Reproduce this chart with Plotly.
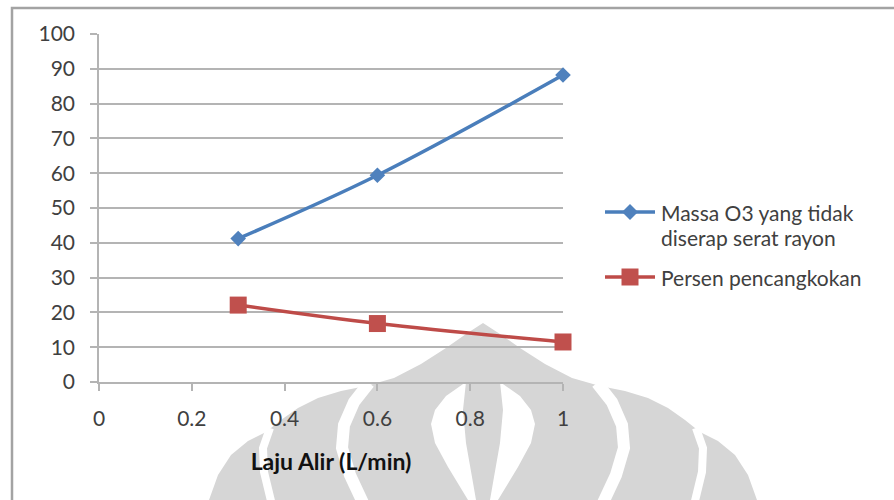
import plotly.graph_objects as go

# Flow rate (L/min)
laju_alir = [0.3, 0.6, 1.0]
# Unabsorbed O3 mass
massa_o3 = [41.2, 59.4, 88.2]
# Grafting percentage
persen = [22.1, 16.8, 11.5]

series_names = [["Massa O3 yang tidak", "diserap serat rayon"], ["Persen pencangkokan"]]
series_colors = ["#4a7ebb", "#be4b48"]
marker_colors = ["#4f81bd", "#c0504d"]

x_ticks = [0, 0.2, 0.4, 0.6, 0.8, 1]
x_tick_text = ["0", "0.2", "0.4", "0.6", "0.8", "1"]
y_ticks = list(range(0, 101, 10))

W, H = 894, 500
ML, MR, MT, MB = 99, 331, 34, 118
PW, PH = W - ML - MR, H - MT - MB

FONT = "Lato, 'Open Sans', sans-serif"
GRID = "#b4b4b4"
TEXT = "#404040"


def px(x, y):
    """pixel position -> paper coords"""
    return (x - ML) / PW, 1 - (y - MT) / PH


def path(points, close=True):
    parts = []
    for i, (x, y) in enumerate(points):
        X, Y = px(x, y)
        parts.append(("M" if i == 0 else "L") + f"{X:.5f},{Y:.5f}")
    return " ".join(parts) + (" Z" if close else "")


def mirror(points, cx=483):
    return [(2 * cx - x, y) for x, y in points]


fig = go.Figure()

fig.add_trace(go.Scatter(
    x=laju_alir, y=massa_o3, mode="lines+markers",
    name=" ".join(series_names[0]), showlegend=False,
    line=dict(color=series_colors[0], width=3.5, shape="spline", smoothing=1),
    marker=dict(symbol="diamond", size=12, color=marker_colors[0]),
    cliponaxis=False,
))
fig.add_trace(go.Scatter(
    x=laju_alir, y=persen, mode="lines+markers",
    name=" ".join(series_names[1]), showlegend=False,
    line=dict(color=series_colors[1], width=3.5, shape="spline", smoothing=1),
    marker=dict(symbol="square", size=17, color=marker_colors[1]),
    cliponaxis=False,
))

shapes = []
annotations = []

# faint background emblem
right_outline = [(483, 323), (500, 334), (520, 348), (545, 364), (572, 378), (600, 386),
                 (625, 391), (648, 398), (668, 408), (685, 420), (700, 432),
                 (718, 441), (735, 455), (748, 475), (757, 500), (770, 520)]
outline = right_outline + [(483, 520)] + list(reversed(mirror(right_outline)))[:-1]
shapes.append(dict(type="path", xref="paper", yref="paper", layer="below",
                   path=path(outline), fillcolor="#d6d6d6", line=dict(width=0)))

lens_r = [(500, 382), (520, 396), (531, 410), (535, 424), (531, 443), (518, 467), (498, 500),
          (496, 510), (488, 510), (490, 500), (494, 477), (500, 443), (503, 410)]
for pts in (lens_r, mirror(lens_r)):
    shapes.append(dict(type="path", xref="paper", yref="paper", layer="below",
                       path=path(pts), fillcolor="white", line=dict(width=0)))

band1 = [(597, 383), (612, 402), (622, 425), (624, 448), (616, 475), (602, 505)]
band2 = [(696, 428), (703, 448), (702, 472), (694, 505)]
for pts, w in ((band1, 12), (band2, 8)):
    for p in (pts, mirror(pts)):
        shapes.append(dict(type="path", xref="paper", yref="paper", layer="below",
                           path=path(p, close=False), fillcolor="rgba(0,0,0,0)",
                           line=dict(color="white", width=w)))

# chart frame
x0, y0 = px(12, 8)
x1, y1 = px(905, 512)
shapes.append(dict(type="rect", xref="paper", yref="paper", layer="below",
                   x0=x0, y0=y0, x1=x1, y1=y1, line=dict(color="#a3a3a3", width=2.5)))

# legend: line sample, marker, label lines
LEG_X0, LEG_X1, LEG_TEXT_X = 605, 655, 660
LINE_GAP = 25.5
legend_rows = [212, 277]
for k, row in enumerate(legend_rows):
    a, b = px(LEG_X0, row), px(LEG_X1, row)
    shapes.append(dict(type="line", xref="paper", yref="paper",
                       x0=a[0], y0=a[1], x1=b[0], y1=b[1],
                       line=dict(color=series_colors[k], width=3.5)))
    cx = (LEG_X0 + LEG_X1) / 2
    if k == 0:
        d = 8
        pts = [(cx, row - d), (cx + d, row), (cx, row + d), (cx - d, row)]
    else:
        d = 8.5
        pts = [(cx - d, row - d), (cx + d, row - d), (cx + d, row + d), (cx - d, row + d)]
    shapes.append(dict(type="path", xref="paper", yref="paper", path=path(pts),
                       fillcolor=marker_colors[k], line=dict(width=0)))
    for j, txt in enumerate(series_names[k]):
        tx, ty = px(LEG_TEXT_X, row + j * LINE_GAP)
        annotations.append(dict(text=txt, xref="paper", yref="paper", x=tx, y=ty,
                                xanchor="left", yanchor="middle", showarrow=False,
                                borderpad=0,
                                font=dict(family=FONT, size=21, color=TEXT)))

fig.update_layout(
    width=W, height=H,
    margin=dict(l=ML, r=MR, t=MT, b=MB, pad=0),
    paper_bgcolor="white",
    plot_bgcolor="rgba(0,0,0,0)",
    font=dict(family=FONT, size=21, color=TEXT),
    shapes=shapes,
    annotations=annotations,
    showlegend=False,
    xaxis=dict(
        range=[0, 1], tickvals=x_ticks, ticktext=x_tick_text,
        showgrid=False, zeroline=False,
        showline=True, linecolor=GRID, linewidth=1.5,
        ticks="outside", ticklen=7, tickcolor=GRID, tickwidth=1.5,
        ticklabelstandoff=10,
        title=dict(text="<b>Laju Alir (L/min)</b>", standoff=25,
                   font=dict(family=FONT, size=23, color="#111111")),
    ),
    yaxis=dict(
        range=[0, 100], tickvals=y_ticks,
        showgrid=True, gridcolor=GRID, gridwidth=1.5,
        zeroline=False,
        showline=True, linecolor=GRID, linewidth=1.5,
        ticks="outside", ticklen=7, tickcolor=GRID, tickwidth=1.5,
        ticklabelstandoff=11,
    ),
)

fig.write_html("out.html")
